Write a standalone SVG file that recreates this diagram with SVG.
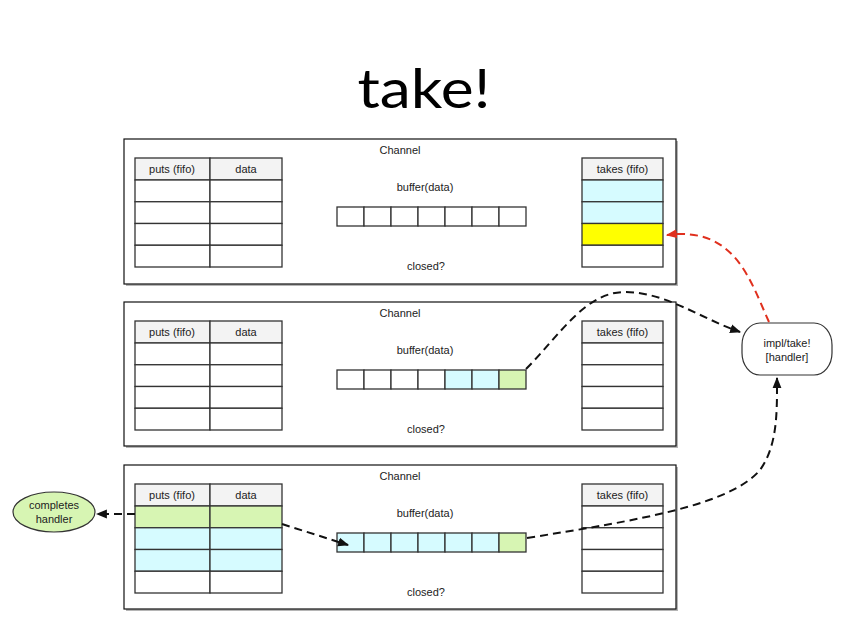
<svg xmlns="http://www.w3.org/2000/svg" width="850" height="637" viewBox="0 0 850 637">
<style>
.bg{fill:#ffffff}
.chan{fill:#ffffff;stroke:#111;stroke-width:1.2}
.shadow{fill:#b5b5b5}
.cell{fill:#ffffff;stroke:#333;stroke-width:1.3}
.hdr{fill:#f3f3f3;stroke:#333;stroke-width:1.3}
.cy{fill:#d6fbff;stroke:#333;stroke-width:1.3}
.gr{fill:#d7f5b3;stroke:#333;stroke-width:1.3}
.ye{fill:#ffff00;stroke:#333;stroke-width:1.3}
.t{font-family:"Liberation Sans",Arial,sans-serif;font-size:11px;fill:#222;text-anchor:middle}
.title{font-family:Lato,"Open Sans",sans-serif;font-size:54px;fill:#000;text-anchor:middle}
.dash{fill:none;stroke:#111;stroke-width:2;stroke-dasharray:8,5}
.dashr{fill:none;stroke:#e0301e;stroke-width:2;stroke-dasharray:8,5}
</style>
<defs>
<marker id="ab" viewBox="0 0 10 10" refX="9" refY="5" markerWidth="11" markerHeight="11" markerUnits="userSpaceOnUse" orient="auto"><path d="M0,1 L10,5 L0,9 z" fill="#111"/></marker>
<marker id="ar" viewBox="0 0 10 10" refX="9" refY="5" markerWidth="11" markerHeight="11" markerUnits="userSpaceOnUse" orient="auto"><path d="M0,1 L10,5 L0,9 z" fill="#e0301e"/></marker>
</defs>
<rect class="bg" x="0" y="0" width="850" height="637"/>
<g id="title"><text class="title" x="424" y="108" textLength="133" lengthAdjust="spacingAndGlyphs">take!</text></g>

<g id="channel1">
<rect class="shadow" x="126" y="141" width="552" height="145"/>
<rect class="chan" x="124" y="139" width="552" height="145"/>
<text class="t" x="400" y="154">Channel</text>
<text class="t" x="425" y="191">buffer(data)</text>
<text class="t" x="426" y="270">closed?</text>
<rect class="hdr" x="135" y="158" width="75" height="22"/><rect class="hdr" x="210" y="158" width="72" height="22"/>
<text class="t" x="172" y="173">puts (fifo)</text><text class="t" x="246" y="173">data</text>
<rect class="cell" x="135" y="180" width="75" height="21.75"/><rect class="cell" x="210" y="180" width="72" height="21.75"/>
<rect class="cell" x="135" y="201.75" width="75" height="21.75"/><rect class="cell" x="210" y="201.75" width="72" height="21.75"/>
<rect class="cell" x="135" y="223.5" width="75" height="21.75"/><rect class="cell" x="210" y="223.5" width="72" height="21.75"/>
<rect class="cell" x="135" y="245.25" width="75" height="21.75"/><rect class="cell" x="210" y="245.25" width="72" height="21.75"/>
<rect class="hdr" x="582" y="158" width="81" height="22"/>
<text class="t" x="622.5" y="173">takes (fifo)</text>
<rect class="cy" x="582" y="180" width="81" height="21.75"/>
<rect class="cy" x="582" y="201.75" width="81" height="21.75"/>
<rect class="ye" x="582" y="223.5" width="81" height="21.75"/>
<rect class="cell" x="582" y="245.25" width="81" height="21.75"/>
<rect class="cell" x="337" y="207" width="27" height="19"/><rect class="cell" x="364" y="207" width="27" height="19"/><rect class="cell" x="391" y="207" width="27" height="19"/><rect class="cell" x="418" y="207" width="27" height="19"/><rect class="cell" x="445" y="207" width="27" height="19"/><rect class="cell" x="472" y="207" width="27" height="19"/><rect class="cell" x="499" y="207" width="27" height="19"/>
</g>

<g id="channel2">
<rect class="shadow" x="126" y="304" width="552" height="144"/>
<rect class="chan" x="124" y="302" width="552" height="144"/>
<text class="t" x="400" y="317">Channel</text>
<text class="t" x="425" y="354">buffer(data)</text>
<text class="t" x="426" y="433">closed?</text>
<rect class="hdr" x="135" y="321" width="75" height="22"/><rect class="hdr" x="210" y="321" width="72" height="22"/>
<text class="t" x="172" y="336">puts (fifo)</text><text class="t" x="246" y="336">data</text>
<rect class="cell" x="135" y="343" width="75" height="21.75"/><rect class="cell" x="210" y="343" width="72" height="21.75"/>
<rect class="cell" x="135" y="364.75" width="75" height="21.75"/><rect class="cell" x="210" y="364.75" width="72" height="21.75"/>
<rect class="cell" x="135" y="386.5" width="75" height="21.75"/><rect class="cell" x="210" y="386.5" width="72" height="21.75"/>
<rect class="cell" x="135" y="408.25" width="75" height="21.75"/><rect class="cell" x="210" y="408.25" width="72" height="21.75"/>
<rect class="hdr" x="582" y="321" width="81" height="22"/>
<text class="t" x="622.5" y="336">takes (fifo)</text>
<rect class="cell" x="582" y="343" width="81" height="21.75"/>
<rect class="cell" x="582" y="364.75" width="81" height="21.75"/>
<rect class="cell" x="582" y="386.5" width="81" height="21.75"/>
<rect class="cell" x="582" y="408.25" width="81" height="21.75"/>
<rect class="cell" x="337" y="370" width="27" height="19"/><rect class="cell" x="364" y="370" width="27" height="19"/><rect class="cell" x="391" y="370" width="27" height="19"/><rect class="cell" x="418" y="370" width="27" height="19"/><rect class="cy" x="445" y="370" width="27" height="19"/><rect class="cy" x="472" y="370" width="27" height="19"/><rect class="gr" x="499" y="370" width="27" height="19"/>
</g>

<g id="channel3">
<rect class="shadow" x="126" y="467" width="552" height="144"/>
<rect class="chan" x="124" y="465" width="552" height="144"/>
<text class="t" x="400" y="480">Channel</text>
<text class="t" x="425" y="517">buffer(data)</text>
<text class="t" x="426" y="596">closed?</text>
<rect class="hdr" x="135" y="484" width="75" height="22"/><rect class="hdr" x="210" y="484" width="72" height="22"/>
<text class="t" x="172" y="499">puts (fifo)</text><text class="t" x="246" y="499">data</text>
<rect class="gr" x="135" y="506" width="75" height="21.75"/><rect class="gr" x="210" y="506" width="72" height="21.75"/>
<rect class="cy" x="135" y="527.75" width="75" height="21.75"/><rect class="cy" x="210" y="527.75" width="72" height="21.75"/>
<rect class="cy" x="135" y="549.5" width="75" height="21.75"/><rect class="cy" x="210" y="549.5" width="72" height="21.75"/>
<rect class="cell" x="135" y="571.25" width="75" height="21.75"/><rect class="cell" x="210" y="571.25" width="72" height="21.75"/>
<rect class="hdr" x="582" y="484" width="81" height="22"/>
<text class="t" x="622.5" y="499">takes (fifo)</text>
<rect class="cell" x="582" y="506" width="81" height="21.75"/>
<rect class="cell" x="582" y="527.75" width="81" height="21.75"/>
<rect class="cell" x="582" y="549.5" width="81" height="21.75"/>
<rect class="cell" x="582" y="571.25" width="81" height="21.75"/>
<rect class="cy" x="337" y="533" width="27" height="19"/><rect class="cy" x="364" y="533" width="27" height="19"/><rect class="cy" x="391" y="533" width="27" height="19"/><rect class="cy" x="418" y="533" width="27" height="19"/><rect class="cy" x="445" y="533" width="27" height="19"/><rect class="cy" x="472" y="533" width="27" height="19"/><rect class="gr" x="499" y="533" width="27" height="19"/>
</g>

<g id="impl-take">
<rect x="742" y="323" width="90" height="52" rx="18" ry="22" fill="#ffffff" stroke="#333" stroke-width="1.2"/>
<text class="t" x="787" y="347">impl/take!</text>
<text class="t" x="787" y="361">[handler]</text>
</g>

<g id="completes-handler">
<ellipse cx="54" cy="512" rx="41" ry="20" fill="#d7f5b3" stroke="#333" stroke-width="1.2"/>
<text class="t" x="54" y="509">completes</text>
<text class="t" x="54" y="523">handler</text>
</g>

<g id="connectors">
<path class="dashr" d="M769,322 C750,280 735,226 667,235" marker-end="url(#ar)"/>
<path class="dash" d="M526,369 C560,335 585,292 625,292 C665,292 700,318 740,332" marker-end="url(#ab)"/>
<path class="dash" d="M527,538 C640,520 730,505 760,470 C778,445 777,410 777,378" marker-end="url(#ab)"/>
<path class="dash" d="M282,524 L348,545" marker-end="url(#ab)"/>
<path class="dash" d="M135,514 L97,514" marker-end="url(#ab)"/>
</g>
</svg>
